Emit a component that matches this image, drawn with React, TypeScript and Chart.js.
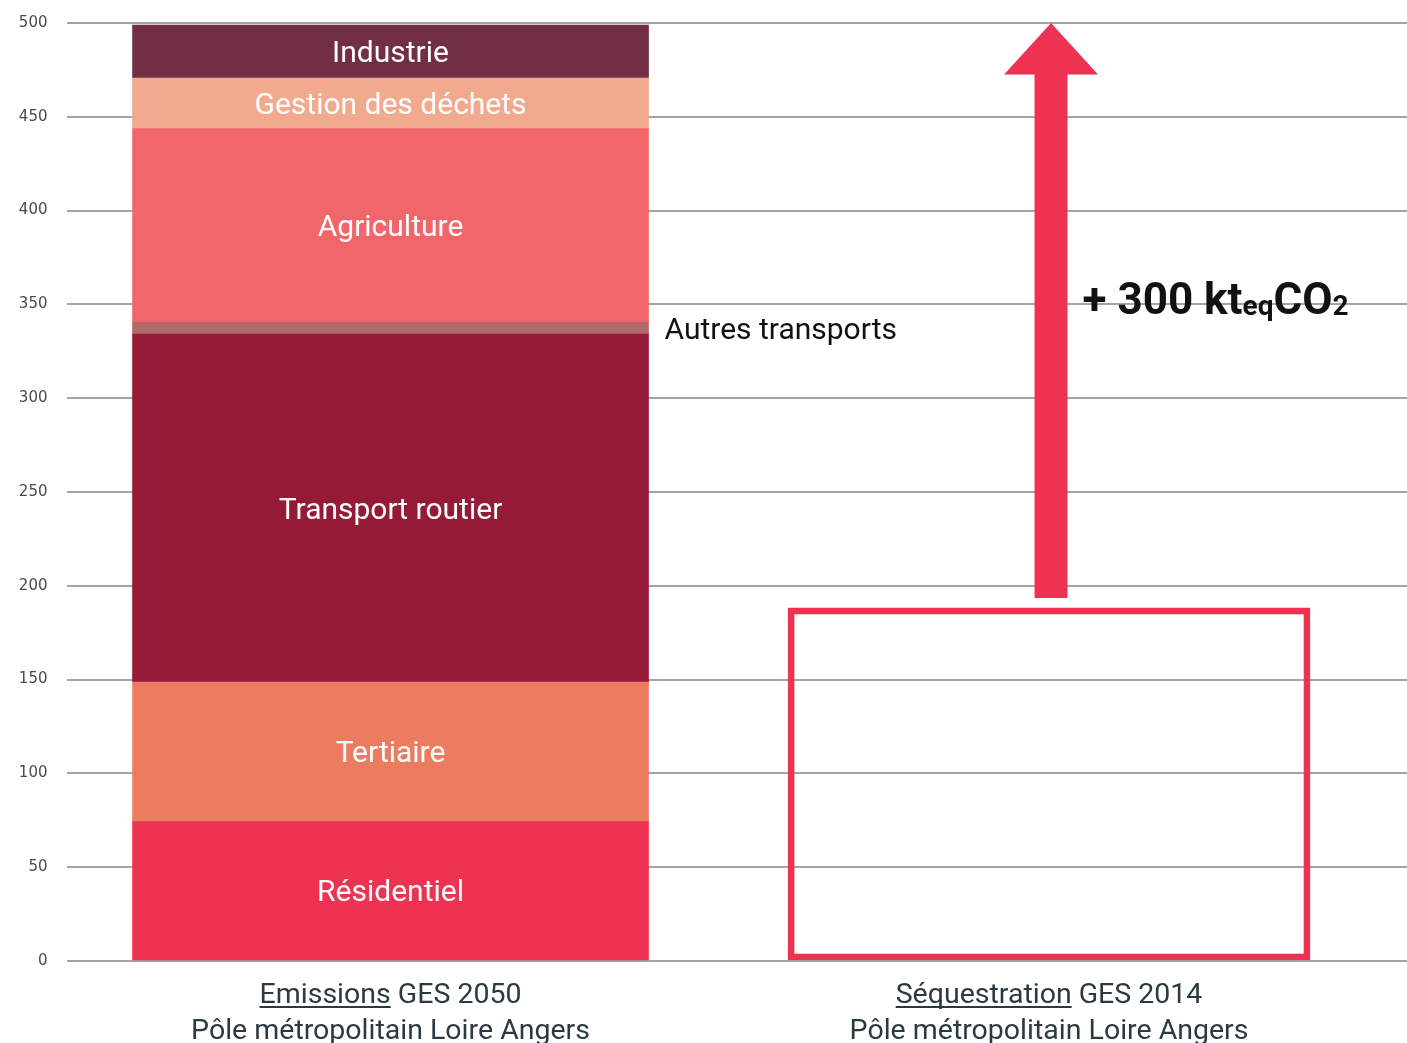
import React, { useEffect, useRef } from 'react';
import { Chart, registerables } from 'chart.js';

Chart.register(...registerables);

// ---- data ----
const sectors = [
  'Résidentiel',
  'Tertiaire',
  'Transport routier',
  'Autres transports',
  'Agriculture',
  'Gestion des déchets',
  'Industrie',
];
const emissions2050 = [74.3, 74.4, 185.5, 6.3, 103.2, 27.0, 28.2];
const sectorColors = ['#ee3352', '#ec7c5f', '#951a37', '#b06a6c', '#f0666b', '#f2aa8f', '#722f44'];
const sequestration2014 = 188.2;
const arrowFrom = 193.5;
const arrowHeadBase = 472.8;
const arrowTo = 500;
const arrowLabelLevel = 345;
const arrowLabelParts = [
  { text: '+ 300 kt', kind: 'main' },
  { text: 'eq', kind: 'sub' },
  { text: 'CO', kind: 'main' },
  { text: '2', kind: 'sub' },
];
const columnTitleUnderlined = ['Emissions', 'Séquestration'];
const columnTitleRest = [' GES 2050', ' GES 2014'];
const columnSubtitle = 'Pôle métropolitain Loire Angers';
const yMin = 0;
const yMax = 500;
const yStep = 50;

const RED = '#ee3352';
const LABEL_FONT = 'Roboto, "DejaVu Sans", sans-serif';

const labelsPlugin = {
  id: 'customLabels',
  afterDatasetsDraw(chart: any) {
    const ctx = chart.ctx;
    const xs = chart.scales.x;
    const ys = chart.scales.y;
    ctx.save();
    // segment labels
    sectors.forEach((name, i) => {
      const meta = chart.getDatasetMeta(i);
      const bar: any = meta.data[0];
      if (!bar) return;
      const top = Math.min(bar.y, bar.base);
      const bot = Math.max(bar.y, bar.base);
      const cy = (top + bot) / 2;
      const fs = 30;
      ctx.font = `400 ${fs}px ${LABEL_FONT}`;
      ctx.textBaseline = 'alphabetic';
      if (bot - top < 24) {
        ctx.fillStyle = '#111111';
        ctx.textAlign = 'left';
        ctx.fillText(name, bar.x + bar.width / 2 + 16, cy + fs * 0.355);
      } else {
        ctx.fillStyle = '#ffffff';
        ctx.textAlign = 'center';
        ctx.fillText(name, bar.x, cy + fs * 0.355);
      }
    });

    // arrow
    const ax = xs.getPixelForValue(1) + 2;
    const yFrom = ys.getPixelForValue(arrowFrom);
    const yHead = ys.getPixelForValue(arrowHeadBase);
    const yTip = ys.getPixelForValue(arrowTo);
    const shaftW = 33;
    const headW = 94;
    ctx.fillStyle = RED;
    ctx.fillRect(ax - shaftW / 2, yHead, shaftW, yFrom - yHead);
    ctx.beginPath();
    ctx.moveTo(ax - headW / 2, yHead + 0.5);
    ctx.lineTo(ax + headW / 2, yHead + 0.5);
    ctx.lineTo(ax, yTip);
    ctx.closePath();
    ctx.fill();

    // arrow label
    let tx = ax + shaftW / 2 + 15;
    const base = ys.getPixelForValue(arrowLabelLevel);
    ctx.fillStyle = '#111111';
    ctx.textAlign = 'left';
    ctx.textBaseline = 'alphabetic';
    arrowLabelParts.forEach((p) => {
      if (p.kind === 'main') {
        ctx.font = `700 44px ${LABEL_FONT}`;
        ctx.fillText(p.text, tx, base);
      } else {
        ctx.font = `700 28px ${LABEL_FONT}`;
        ctx.fillText(p.text, tx, base + 1);
      }
      tx += ctx.measureText(p.text).width;
    });
    ctx.restore();
  },
  afterDraw(chart: any) {
    const ctx = chart.ctx;
    const xs = chart.scales.x;
    const bottom = chart.chartArea.bottom;
    ctx.save();
    ctx.fillStyle = '#2b3940';
    ctx.strokeStyle = '#2b3940';
    ctx.textBaseline = 'alphabetic';
    ctx.font = `400 28.5px ${LABEL_FONT}`;
    columnTitleUnderlined.forEach((u, i) => {
      const cx = xs.getPixelForValue(i);
      const wu = ctx.measureText(u).width;
      const wr = ctx.measureText(columnTitleRest[i]).width;
      const x0 = cx - (wu + wr) / 2;
      const b1 = bottom + 42;
      ctx.textAlign = 'left';
      ctx.fillText(u, x0, b1);
      ctx.fillText(columnTitleRest[i], x0 + wu, b1);
      ctx.fillRect(x0, b1 + 3, wu, 2);
      ctx.textAlign = 'center';
      ctx.fillText(columnSubtitle, cx, bottom + 78);
    });
    ctx.restore();
  },
};

export default function App() {
  const ref = useRef<HTMLCanvasElement | null>(null);
  useEffect(() => {
    if (!ref.current) return;
    const datasets: any[] = sectors.map((name, i) => ({
      label: name,
      data: [{ x: 0, y: emissions2050[i] }],
      backgroundColor: sectorColors[i],
      borderWidth: 0,
      barThickness: 516,
      stack: 's',
    }));
    datasets.push({
      label: 'Séquestration',
      data: [{ x: 1, y: sequestration2014 }],
      backgroundColor: 'rgba(255,255,255,0)',
      borderColor: RED,
      borderWidth: 6,
      borderSkipped: false,
      barThickness: 522,
      stack: 's',
    });
    const chart = new Chart(ref.current, {
      type: 'bar',
      data: { datasets },
      options: {
        animation: false,
        responsive: false,
        events: [],
        layout: { padding: { top: 23, bottom: 82, left: 0, right: 0 } },
        plugins: {
          legend: { display: false },
          tooltip: { enabled: false },
        },
        scales: {
          x: {
            type: 'linear',
            min: -0.4913,
            max: 1.5436,
            offset: false,
            display: false,
            stacked: true,
            grid: { offset: false },
          },
          y: {
            min: yMin,
            max: yMax,
            stacked: true,
            ticks: {
              stepSize: yStep,
              padding: 19.5,
              color: '#4a4a4a',
              font: { family: '"DejaVu Sans", sans-serif', size: 15 },
            },
            grid: { color: '#a4a4a4', lineWidth: 2, drawTicks: false },
            border: { display: false },
            afterFit: (s: any) => {
              s.width = 67;
              s.paddingTop = 0;
              s.paddingBottom = 0;
            },
          },
        },
      } as any,
      plugins: [labelsPlugin],
    });
    return () => chart.destroy();
  }, []);
  return (
    <div style={{ position: 'absolute', left: 0, top: 0, width: 1407, height: 1043, background: '#ffffff' }}>
      <canvas ref={ref} width={1407} height={1043} style={{ display: 'block' }} />
    </div>
  );
}
